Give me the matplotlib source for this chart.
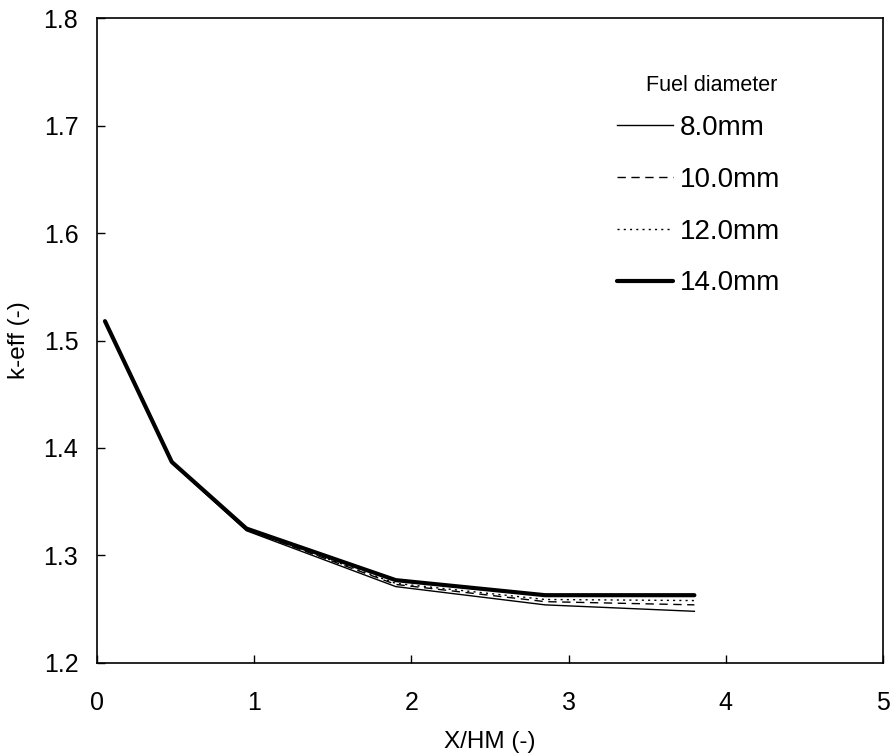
import numpy as np
import matplotlib
matplotlib.use("Agg")
import matplotlib.pyplot as plt

plt.rcParams['font.family'] = ['Liberation Sans', 'DejaVu Sans']

# X/HM ratio and k-eff for each fuel diameter
x_hm = [0.05, 0.475, 0.95, 1.9, 2.85, 3.8]
keff_8mm = [1.518, 1.386, 1.323, 1.271, 1.254, 1.248]
keff_10mm = [1.518, 1.386, 1.324, 1.273, 1.257, 1.254]
keff_12mm = [1.518, 1.386, 1.324, 1.274, 1.259, 1.258]
keff_14mm = [1.518, 1.387, 1.325, 1.277, 1.263, 1.263]
labels = ['8.0mm', '10.0mm', '12.0mm', '14.0mm']

fig = plt.figure(figsize=(8.91, 7.55), dpi=100)
ax = fig.add_axes([0.109, 0.122, 0.882, 0.854])

ax.plot(x_hm, keff_8mm, color='black', lw=1.0, label=labels[0])
ax.plot(x_hm, keff_10mm, color='black', lw=1.0, dashes=(6, 4), label=labels[1])
ax.plot(x_hm, keff_12mm, color='black', lw=1.0, dashes=(1.5, 3), label=labels[2])
ax.plot(x_hm, keff_14mm, color='black', lw=3.0, solid_capstyle='round', label=labels[3])

ax.set_xlim(0, 5)
ax.set_ylim(1.2, 1.8)
ax.set_xticks(np.arange(0, 6, 1))
ax.set_yticks(np.arange(1.2, 1.81, 0.1))
ax.set_yticklabels(['%.1f' % v for v in np.arange(1.2, 1.81, 0.1)])
ax.tick_params(direction='in', length=6, width=1.0, labelsize=18)
ax.tick_params(axis='y', pad=13.5)
ax.tick_params(axis='x', pad=20)
for sp in ax.spines.values():
    sp.set_linewidth(1.2)

ax.set_xlabel('X/HM (-)', fontsize=17.5, labelpad=12)
ax.set_ylabel('k-eff (-)', fontsize=17.5, labelpad=10)

leg = ax.legend(loc='upper left', bbox_to_anchor=(0.662, 0.850), frameon=False,
                fontsize=20, handlelength=2.0, handletextpad=0.25,
                labelspacing=0.93, borderpad=0, borderaxespad=0)
# legend heading, right-aligned with the entries
ax.text(0.866, 0.896, 'Fuel diameter', transform=ax.transAxes,
        ha='right', va='center', fontsize=15.5)

fig.savefig('out.png', dpi=100)
